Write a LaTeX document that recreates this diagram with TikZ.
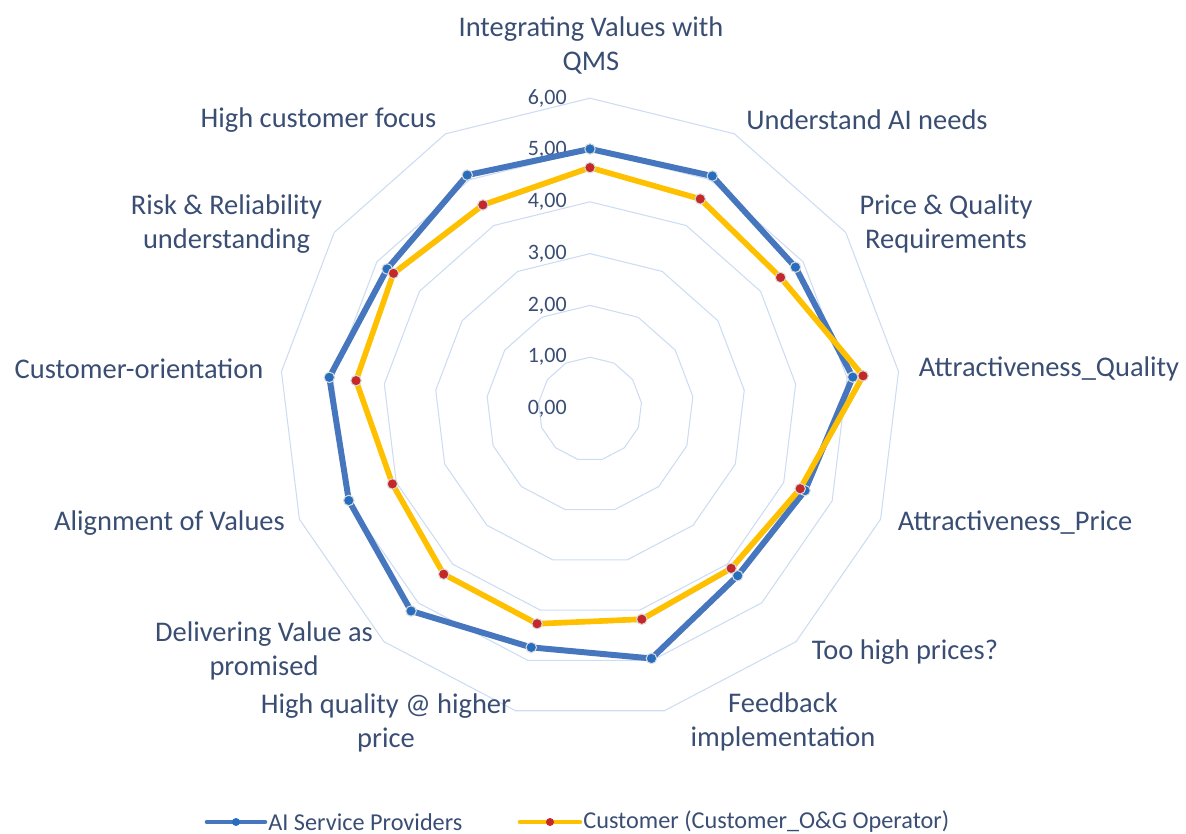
\documentclass[tikz,border=0pt]{standalone}
\usepackage{fontspec}
\setmainfont{Carlito}
\definecolor{labtxt}{RGB}{58,78,116}
\definecolor{gridc}{RGB}{204,220,242}
\definecolor{provblue}{RGB}{70,118,190}
\definecolor{provdot}{RGB}{40,110,190}
\definecolor{custyel}{RGB}{255,192,0}
\definecolor{custdot}{RGB}{196,40,40}
\begin{document}
\begin{tikzpicture}[font=\fontsize{16.2}{19.8}\selectfont,line join=round,line cap=round,
	lab/.style={text=labtxt,align=center,inner sep=0pt},
	shade/.style={preaction={draw=black,opacity=0.18,transform canvas={xshift=0.8pt,yshift=-1.2pt}}},
	provline/.style={draw=provblue,line width=3.4pt,shade},
	custline/.style={draw=custyel,line width=3.2pt,shade},
	dot/.style={draw=white!85!black,line width=0.6pt}]
	\useasboundingbox (-11.8,-8.5) rectangle (11.92,8.18);
	\def\rr{1.036}
	% grid
	\foreach \k in {1,...,6} \draw[gridc,line width=0.6pt] (90:{\k*\rr}) \foreach \j in {1,...,12}{ -- ({90-\j*360/13}:{\k*\rr})} -- cycle;
	\foreach \k in {0,...,6} \node[lab,anchor=east,font=\fontsize{12.5}{15}\selectfont] (t\k) at (-0.46,\k*\rr) {\k,00};
	% series
	\foreach \v [count=\i from 0] in {5.02,5.08,4.82,5.11,4.44,4.30,4.96,4.74,5.21,4.98,5.07,4.76,5.10}
		\coordinate (b\i) at ({90-\i*360/13}:{\v*\rr});
	\foreach \v [count=\i from 0] in {4.66,4.58,4.47,5.31,4.34,4.11,4.18,4.27,4.26,4.08,4.55,4.61,4.45}
		\coordinate (c\i) at ({90-\i*360/13}:{\v*\rr});
	\draw[provline] (b0) \foreach \i in {1,...,12}{ -- (b\i)} -- cycle;
	\draw[custline] (c0) \foreach \i in {1,...,12}{ -- (c\i)} -- cycle;
	\foreach \i in {0,...,12} {\filldraw[dot,fill=provdot] (b\i) circle (0.105); \filldraw[dot,fill=custdot] (c\i) circle (0.105);}
	% axis labels
	\node[lab] (a0) at (0.02,7.27) {Integrating Values with\\QMS};
	\node[lab] (a1) at (5.54,5.78) {Understand AI needs};
	\node[lab] (a2) at (7.12,3.70) {Price \& Quality\\Requirements};
	\node[lab] (a3) at (9.18,0.80) {Attractiveness\_Quality};
	\node[lab] (a4) at (8.50,-2.28) {Attractiveness\_Price};
	\node[lab] (a5) at (6.30,-4.86) {Too high prices?};
	\node[lab] (a6) at (3.86,-6.26) {Feedback\\implementation};
	\node[lab] (a7) at (-4.08,-6.28) {High quality @ higher\\price};
	\node[lab] (a8) at (-6.52,-4.84) {Delivering Value as\\promised};
	\node[lab] (a9) at (-8.41,-2.28) {Alignment of Values};
	\node[lab] (a10) at (-9.02,0.80) {Customer-orientation};
	\node[lab] (a11) at (-7.27,3.70) {Risk \& Reliability\\understanding};
	\node[lab] (a12) at (-5.43,5.78) {High customer focus};
	% legend
	\coordinate (lb1) at (-7.66,-8.26); \coordinate (lb2) at (-6.5,-8.26); \coordinate (lbm) at (-7.08,-8.26);
	\coordinate (lc1) at (-1.4,-8.26); \coordinate (lc2) at (-0.2,-8.26); \coordinate (lcm) at (-0.8,-8.26);
	\draw[provblue,line width=2.6pt] (lb1) -- (lb2);
	\fill[provdot] (lbm) circle (0.08);
	\node[lab,anchor=west,font=\fontsize{13.8}{15}\selectfont] (legb) at ([xshift=0.06cm]lb2) {AI Service Providers};
	\draw[custyel,line width=2.6pt] (lc1) -- (lc2);
	\fill[custdot] (lcm) circle (0.08);
	\node[lab,anchor=west,font=\fontsize{13.8}{15}\selectfont] (legc) at ([xshift=0.06cm]lc2) {Customer (Customer\_O\&G Operator)};
\end{tikzpicture}
\end{document}
